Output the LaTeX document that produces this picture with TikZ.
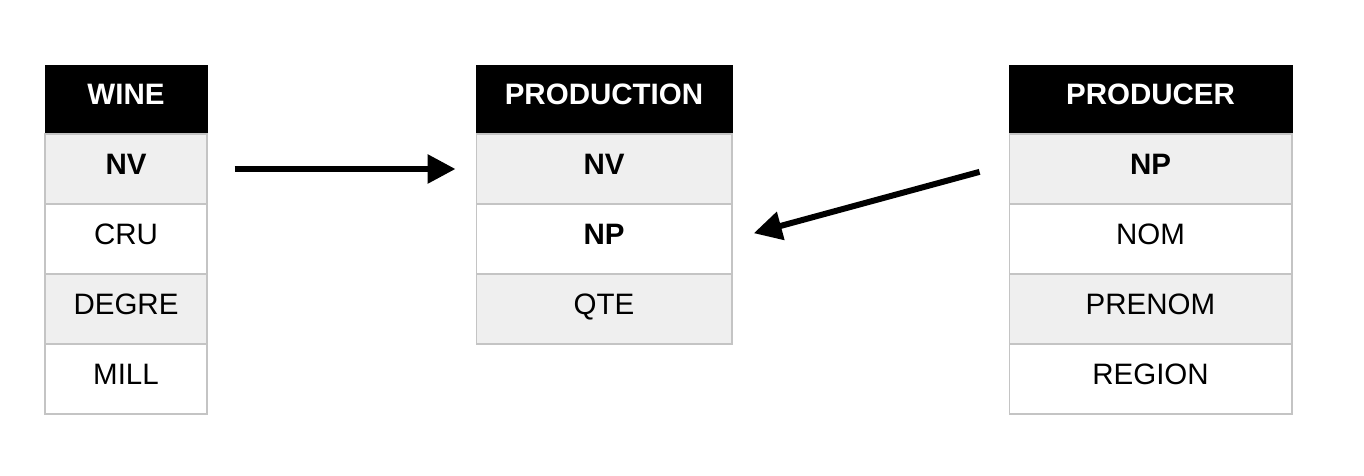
\documentclass[tikz,border=0pt]{standalone}
\usepackage{fontspec}
\setmainfont{Liberation Sans}
\usetikzlibrary{arrows.meta}
\definecolor{rowgrey}{HTML}{EFEFEF}
\definecolor{edgegrey}{HTML}{C4C4C4}
\begin{document}
\begin{tikzpicture}[x=0.02cm,y=-0.02cm,>={Triangle[length=0.56cm,width=0.56cm]},every node/.style={font=\fontsize{16.8}{18}\selectfont,inner sep=0pt,text depth=0.2cm},
  hd/.style={fill=black,draw=black,text=white,font=\fontsize{16.8}{18}\selectfont\bfseries,minimum height=1.38cm},
  cell/.style={draw=edgegrey,line width=0.6pt,minimum height=1.4cm},alt/.style={cell,fill=rowgrey},key/.style={font=\fontsize{16.8}{18}\selectfont\bfseries},
  link/.style={->,line width=0.12cm}]
\useasboundingbox (0,0) rectangle (1364,476);
% wine
\node[hd,minimum width=3.24cm] (wine) at (126,99.5){WINE};\node[alt,key,minimum width=3.24cm] (wnv) at (126,169){NV};\node[cell,minimum width=3.24cm] (wcru) at (126,239){CRU};
\node[alt,minimum width=3.24cm] (wdeg) at (126,309){DEGRE};\node[cell,minimum width=3.24cm] (wmill) at (126,379){MILL};
% production
\node[hd,minimum width=5.12cm] (prod) at (604,99.5){PRODUCTION};\node[alt,key,minimum width=5.12cm] (pnv) at (604,169){NV};\node[cell,key,minimum width=5.12cm] (pnp) at (604,239){NP};
\node[alt,minimum width=5.12cm] (pqte) at (604,309){QTE};
% producer
\node[hd,minimum width=5.66cm] (prdr) at (1150.5,99.5){PRODUCER};\node[alt,key,minimum width=5.66cm] (rnp) at (1150.5,169){NP};\node[cell,minimum width=5.66cm] (rnom) at (1150.5,239){NOM};
\node[alt,minimum width=5.66cm] (rpre) at (1150.5,309){PRENOM};\node[cell,minimum width=5.66cm] (rreg) at (1150.5,379){REGION};
\draw[link,shorten <=0.54cm,shorten >=0.4cm] (wnv) -- (pnv);
\draw[link,shorten <=0.6cm,shorten >=0.44cm] ([yshift=0.1cm]rnp.west) -- (pnp.east);
\end{tikzpicture}
\end{document}
